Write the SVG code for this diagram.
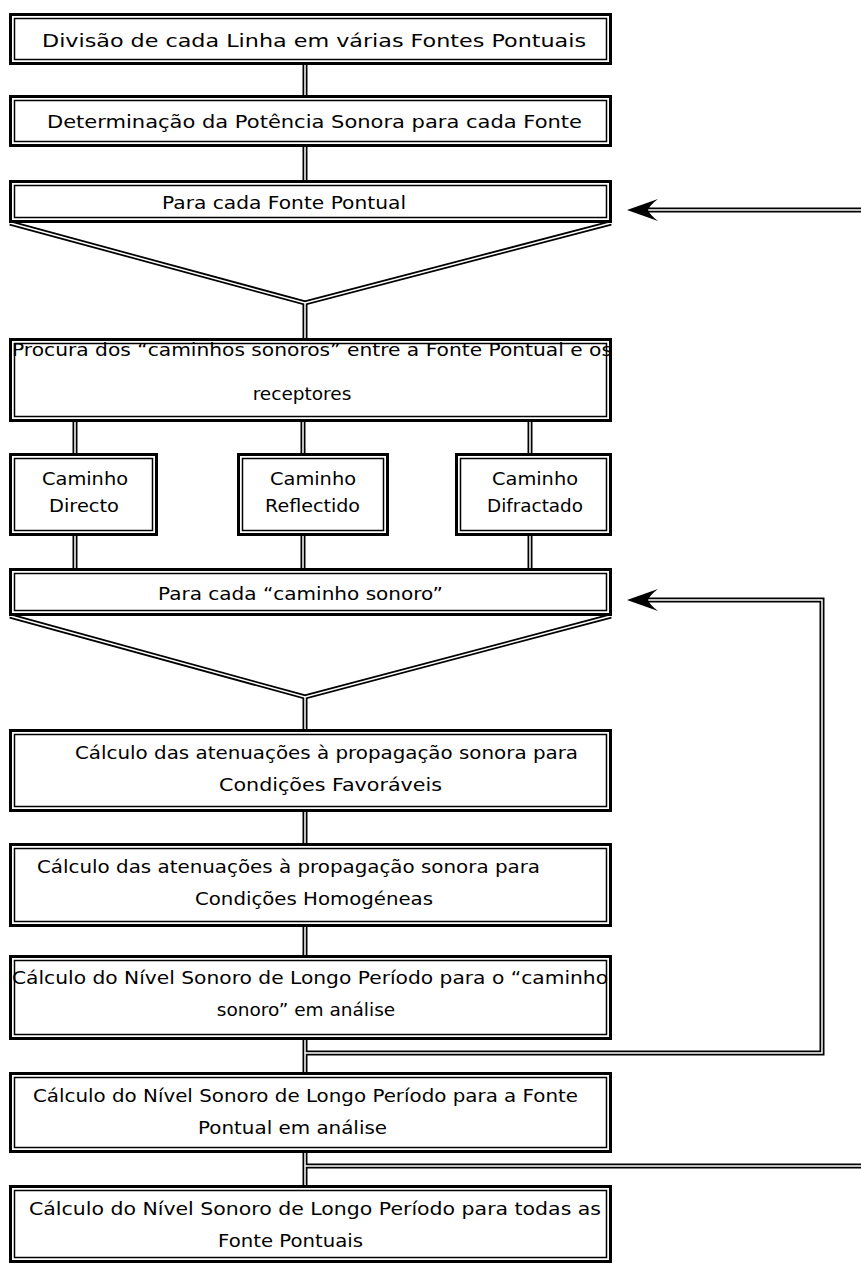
<svg xmlns="http://www.w3.org/2000/svg" width="861" height="1263" viewBox="0 0 861 1263">
<style>
.o{fill:none;stroke:#000;stroke-width:3}
.i{fill:none;stroke:#000;stroke-width:1.5}
.bg{fill:#fff}
.t{font-family:"DejaVu Sans","Verdana",sans-serif;font-size:18.5px;fill:#000;dominant-baseline:central}
.c{text-anchor:middle}
.db{fill:none;stroke:#000;stroke-width:5;stroke-linejoin:miter}
.dw{fill:none;stroke:#fff;stroke-width:1.5;stroke-linejoin:miter}
.ah{fill:#000}
</style>
<rect width="861" height="1263" fill="#fff"/>
<g id="connectors">
  <path class="db" d="M305 65V95M305 147V180M305 303V338M305 697V729M305 812V843M305 927V955M305 1040V1072M305 1153V1185M75 422V453M303 422V453M530 422V453M75 536V568M303 536V568M530 536V568"/>
  <path class="db" d="M10 223L305 303L611 223"/>
  <path class="db" d="M10 616L305 697L611 616"/>
  <path class="db" d="M305 1053H822V600H648"/>
  <path class="db" d="M305 1166H861"/>
  <path class="db" d="M861 210H648"/>
  <path class="dw" d="M305 65V95M305 147V180M305 303V338M305 697V729M305 812V843M305 927V955M305 1040V1072M305 1153V1185M75 422V453M303 422V453M530 422V453M75 536V568M303 536V568M530 536V568"/>
  <path class="dw" d="M10 223L305 303L611 223"/>
  <path class="dw" d="M10 616L305 697L611 616"/>
  <path class="dw" d="M305 1053H822V600H648"/>
  <path class="dw" d="M305 1166H861"/>
  <path class="dw" d="M861 210H648"/>
  <path class="ah" d="M627 210L658 199Q650 205 648 210Q650 215 658 221Z"/>
  <path class="ah" d="M627 600L658 589Q650 595 648 600Q650 605 658 611Z"/>
</g>
<g id="n1">
  <rect class="bg" x="9" y="13" width="603" height="52"/>
  <rect class="o" x="10.5" y="14.5" width="600" height="49"/>
  <rect class="i" x="14.5" y="18.5" width="592" height="41"/>
  <text class="t" x="42" y="40" textLength="544" lengthAdjust="spacingAndGlyphs">Divisão de cada Linha em várias Fontes Pontuais</text>
</g>
<g id="n2">
  <rect class="bg" x="9" y="95" width="603" height="52"/>
  <rect class="o" x="10.5" y="96.5" width="600" height="49"/>
  <rect class="i" x="14.5" y="100.5" width="592" height="41"/>
  <text class="t" x="47" y="121" textLength="535" lengthAdjust="spacingAndGlyphs">Determinação da Potência Sonora para cada Fonte</text>
</g>
<g id="n3">
  <rect class="bg" x="9" y="180" width="603" height="43"/>
  <rect class="o" x="10.5" y="181.5" width="600" height="40"/>
  <rect class="i" x="14.5" y="185.5" width="592" height="32"/>
  <text class="t" x="162" y="202" textLength="244" lengthAdjust="spacingAndGlyphs">Para cada Fonte Pontual</text>
</g>
<g id="n4">
  <rect class="bg" x="9" y="338" width="603" height="84"/>
  <rect class="o" x="10.5" y="339.5" width="600" height="81"/>
  <rect class="i" x="14.5" y="343.5" width="592" height="73"/>
  <text class="t" x="12" y="349" textLength="600" lengthAdjust="spacingAndGlyphs">Procura dos “caminhos sonoros” entre a Fonte Pontual e os</text>
  <text class="t c" x="302" y="393">receptores</text>
</g>
<g id="n5">
  <rect class="bg" x="9" y="453" width="149" height="83"/>
  <rect class="o" x="10.5" y="454.5" width="146" height="80"/>
  <rect class="i" x="14.5" y="458.5" width="138" height="72"/>
  <text class="t" x="42" y="478" textLength="86" lengthAdjust="spacingAndGlyphs">Caminho</text>
  <text class="t" x="49" y="505" textLength="70" lengthAdjust="spacingAndGlyphs">Directo</text>
</g>
<g id="n6">
  <rect class="bg" x="237" y="453" width="152" height="83"/>
  <rect class="o" x="238.5" y="454.5" width="149" height="80"/>
  <rect class="i" x="242.5" y="458.5" width="141" height="72"/>
  <text class="t" x="270" y="478" textLength="86" lengthAdjust="spacingAndGlyphs">Caminho</text>
  <text class="t" x="265" y="505" textLength="95" lengthAdjust="spacingAndGlyphs">Reflectido</text>
</g>
<g id="n7">
  <rect class="bg" x="455" y="453" width="157" height="83"/>
  <rect class="o" x="456.5" y="454.5" width="154" height="80"/>
  <rect class="i" x="460.5" y="458.5" width="146" height="72"/>
  <text class="t" x="492" y="478" textLength="86" lengthAdjust="spacingAndGlyphs">Caminho</text>
  <text class="t" x="487" y="505" textLength="96" lengthAdjust="spacingAndGlyphs">Difractado</text>
</g>
<g id="n8">
  <rect class="bg" x="9" y="568" width="603" height="48"/>
  <rect class="o" x="10.5" y="569.5" width="600" height="45"/>
  <rect class="i" x="14.5" y="573.5" width="592" height="37"/>
  <text class="t" x="158" y="593" textLength="285" lengthAdjust="spacingAndGlyphs">Para cada “caminho sonoro”</text>
</g>
<g id="n9">
  <rect class="bg" x="9" y="729" width="603" height="83"/>
  <rect class="o" x="10.5" y="730.5" width="600" height="80"/>
  <rect class="i" x="14.5" y="734.5" width="592" height="72"/>
  <text class="t" x="75" y="752" textLength="503" lengthAdjust="spacingAndGlyphs">Cálculo das atenuações à propagação sonora para</text>
  <text class="t" x="219" y="784" textLength="223" lengthAdjust="spacingAndGlyphs">Condições Favoráveis</text>
</g>
<g id="n10">
  <rect class="bg" x="9" y="843" width="603" height="84"/>
  <rect class="o" x="10.5" y="844.5" width="600" height="81"/>
  <rect class="i" x="14.5" y="848.5" width="592" height="73"/>
  <text class="t" x="37" y="866" textLength="503" lengthAdjust="spacingAndGlyphs">Cálculo das atenuações à propagação sonora para</text>
  <text class="t" x="195" y="898" textLength="238" lengthAdjust="spacingAndGlyphs">Condições Homogéneas</text>
</g>
<g id="n11">
  <rect class="bg" x="9" y="955" width="603" height="85"/>
  <rect class="o" x="10.5" y="956.5" width="600" height="82"/>
  <rect class="i" x="14.5" y="960.5" width="592" height="74"/>
  <text class="t" x="12" y="977" textLength="596" lengthAdjust="spacingAndGlyphs">Cálculo do Nível Sonoro de Longo Período para o “caminho</text>
  <text class="t c" x="306" y="1009">sonoro” em análise</text>
</g>
<g id="n12">
  <rect class="bg" x="9" y="1072" width="603" height="81"/>
  <rect class="o" x="10.5" y="1073.5" width="600" height="78"/>
  <rect class="i" x="14.5" y="1077.5" width="592" height="70"/>
  <text class="t" x="33" y="1095" textLength="545" lengthAdjust="spacingAndGlyphs">Cálculo do Nível Sonoro de Longo Período para a Fonte</text>
  <text class="t" x="198" y="1127" textLength="189" lengthAdjust="spacingAndGlyphs">Pontual em análise</text>
</g>
<g id="n13">
  <rect class="bg" x="9" y="1185" width="603" height="78"/>
  <rect class="o" x="10.5" y="1186.5" width="600" height="75"/>
  <rect class="i" x="14.5" y="1190.5" width="592" height="67"/>
  <text class="t" x="29" y="1208" textLength="572" lengthAdjust="spacingAndGlyphs">Cálculo do Nível Sonoro de Longo Período para todas as</text>
  <text class="t" x="218" y="1240" textLength="145" lengthAdjust="spacingAndGlyphs">Fonte Pontuais</text>
</g>
</svg>
